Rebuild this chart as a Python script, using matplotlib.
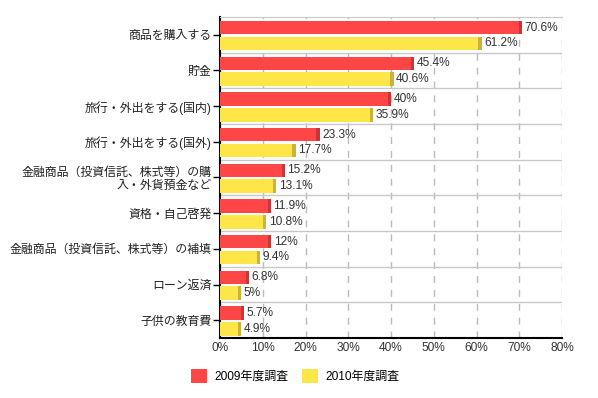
import matplotlib
matplotlib.use('Agg')
import matplotlib.pyplot as plt
import numpy as np

plt.rcParams['font.family'] = ['Liberation Sans', 'Noto Sans CJK JP']

categories = ['商品を購入する', '貯金', '旅行・外出をする(国内)', '旅行・外出をする(国外)',
              '金融商品（投資信託、株式等）の購\n入・外貨預金など', '資格・自己啓発',
              '金融商品（投資信託、株式等）の補填', 'ローン返済', '子供の教育費']
values_2009 = [70.6, 45.4, 40, 23.3, 15.2, 11.9, 12, 6.8, 5.7]
values_2010 = [61.2, 40.6, 35.9, 17.7, 13.1, 10.8, 9.4, 5, 4.9]
series_names = ['2009年度調査', '2010年度調査']
x_ticks = [0, 10, 20, 30, 40, 50, 60, 70, 80]

red, red_dark = '#FF4646', '#C8363A'
yellow, yellow_dark = '#FFE648', '#CDB23A'
fs = 8.6

fig = plt.figure(figsize=(5.98, 3.98), dpi=100)
ax = fig.add_axes([220 / 598, 1 - 338 / 398, 342 / 598, 321 / 398])

y = np.arange(len(categories))
h = 0.38
cap = 0.75  # darker strip at bar end (3d look)

for vals, off, c, cd, name in [(values_2009, -0.2, red, red_dark, series_names[0]),
                               (values_2010, 0.24, yellow, yellow_dark, series_names[1])]:
    vals = np.array(vals, dtype=float)
    ax.barh(y + off, vals, height=h, color=c, label=name, zorder=3)
    ax.barh(y + off, np.full(len(vals), cap), left=vals - cap, height=h, color=cd, zorder=3)
    for yi, v in zip(y + off, vals):
        ax.text(v + 0.6, yi, f'{v:g}%', va='center', ha='left', fontsize=fs,
                color='#333333', zorder=4)

ax.set_xlim(0, 80)
ax.set_ylim(len(categories) - 0.5, -0.5)
ax.set_xticks(x_ticks)
ax.set_xticklabels([f'{t}%' for t in x_ticks], fontsize=fs, color='#333333')
ax.set_yticks(y)
ax.set_yticklabels(categories, fontsize=fs, color='#222222', linespacing=1.1)
ax.tick_params(axis='y', length=5, width=1, color='black', pad=1)
ax.tick_params(axis='x', length=0, pad=3)

ax.set_yticks(np.arange(0.5, len(categories) - 0.5), minor=True)
ax.tick_params(axis='y', which='minor', length=0)
ax.grid(axis='y', which='minor', color='#C8C8C8', linewidth=1, zorder=1)
ax.grid(axis='x', which='major', color='#BBBBBB', linewidth=1, linestyle=(0, (5, 5)), zorder=1)

ax.spines['top'].set_color('#C8C8C8')
ax.spines['right'].set_visible(False)
ax.spines['left'].set_color('black')
ax.spines['left'].set_linewidth(1.5)
ax.spines['bottom'].set_color('black')
ax.spines['bottom'].set_linewidth(1.5)

handles, labels = ax.get_legend_handles_labels()
fig.legend(handles, labels, loc='center', bbox_to_anchor=(295 / 598, 0.055), ncol=2,
           frameon=False, fontsize=fs, handlelength=1.35, handleheight=1.35,
           columnspacing=1.1, handletextpad=0.65)

fig.savefig('out.png', dpi=100)
